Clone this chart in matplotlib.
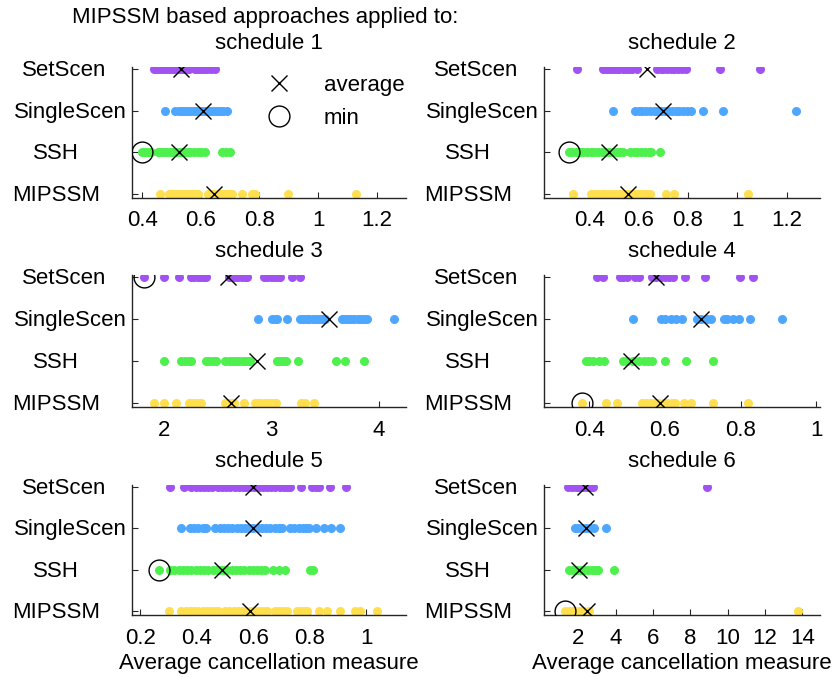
import matplotlib
matplotlib.use("Agg")
import matplotlib.pyplot as plt
from matplotlib.lines import Line2D
from matplotlib.transforms import blended_transform_factory

plt.rcParams['font.family'] = ['Liberation Sans', 'DejaVu Sans']

methods = ["SetScen", "SingleScen", "SSH", "MIPSSM"]
colors = ["#A152F2", "#4DA6FF", "#4DF04D", "#FFDF4D"]

# schedule 1
set1 = [0.44, 0.45, 0.46, 0.47, 0.48, 0.49, 0.50, 0.51, 0.52, 0.53, 0.54, 0.55, 0.56,
        0.58, 0.59, 0.60, 0.61, 0.62, 0.635, 0.648]
single1 = [0.477, 0.513, 0.525, 0.535, 0.545, 0.555, 0.565, 0.575, 0.585, 0.595, 0.605,
           0.615, 0.625, 0.635, 0.645, 0.655, 0.665, 0.675, 0.688]
ssh1 = [0.40, 0.41, 0.42, 0.43, 0.455, 0.465, 0.475, 0.485, 0.495, 0.505, 0.515, 0.525,
        0.535, 0.545, 0.555, 0.563, 0.578, 0.59, 0.602, 0.615, 0.672, 0.685, 0.70]
mip1 = [0.462, 0.49, 0.50, 0.51, 0.52, 0.53, 0.54, 0.55, 0.56, 0.57, 0.58, 0.59,
        0.626, 0.635, 0.645, 0.655, 0.665, 0.675, 0.685, 0.695, 0.705, 0.742, 0.774,
        0.785, 0.898, 1.128]
avg1 = [0.532, 0.606, 0.525, 0.646]

# schedule 2
set2 = [0.348, 0.457, 0.467, 0.477, 0.487, 0.50, 0.51, 0.52, 0.535, 0.55, 0.56, 0.572,
        0.593, 0.674, 0.69, 0.70, 0.715, 0.73, 0.745, 0.76, 0.775, 0.79, 0.928, 1.092]
single2 = [0.495, 0.586, 0.60, 0.615, 0.63, 0.645, 0.66, 0.675, 0.69, 0.705, 0.72, 0.735,
           0.75, 0.765, 0.78, 0.795, 0.81, 0.86, 0.942, 1.238]
ssh2 = [0.316, 0.33, 0.345, 0.36, 0.375, 0.39, 0.405, 0.42, 0.435, 0.45, 0.465, 0.48,
        0.495, 0.51, 0.525, 0.535, 0.565, 0.58, 0.595, 0.61, 0.625, 0.64, 0.65, 0.688]
mip2 = [0.335, 0.405, 0.42, 0.435, 0.45, 0.465, 0.48, 0.495, 0.51, 0.525, 0.54, 0.555,
        0.57, 0.585, 0.60, 0.615, 0.63, 0.645, 0.712, 0.742, 1.045]
avg2 = [0.633, 0.697, 0.481, 0.556]

# schedule 3
set3 = [1.81, 2.0, 2.138, 2.25, 2.28, 2.31, 2.34, 2.37, 2.39, 2.60, 2.63, 2.66, 2.69,
        2.72, 2.75, 2.77, 2.93, 2.96, 2.99, 3.02, 3.05, 3.08, 3.185, 3.262]
single3 = [2.877, 3.0, 3.03, 3.046, 3.138, 3.262, 3.29, 3.32, 3.35, 3.38, 3.41, 3.44,
           3.47, 3.50, 3.65, 3.68, 3.71, 3.74, 3.77, 3.80, 3.83, 3.86, 3.89, 4.138]
ssh3 = [2.0, 2.16, 2.19, 2.23, 2.25, 2.39, 2.42, 2.455, 2.48, 2.57, 2.60, 2.63, 2.66,
        2.69, 2.72, 2.75, 2.78, 2.80, 3.05, 3.076, 3.106, 3.13, 3.246, 3.594, 3.68, 3.862]
mip3 = [1.908, 2.0, 2.108, 2.23, 2.26, 2.29, 2.32, 2.34, 2.57, 2.60, 2.63, 2.65, 2.738,
        2.846, 2.875, 2.905, 2.935, 2.965, 2.995, 3.025, 3.04, 3.277, 3.31, 3.39]
avg3 = [2.59, 3.53, 2.862, 2.625]

# schedule 4
set4 = [0.419, 0.437, 0.48, 0.49, 0.50, 0.52, 0.53, 0.565, 0.575, 0.59, 0.60, 0.61,
        0.62, 0.653, 0.706, 0.799, 0.834]
single4 = [0.515, 0.59, 0.60, 0.615, 0.63, 0.645, 0.685, 0.695, 0.71, 0.722, 0.755,
           0.765, 0.78, 0.795, 0.825, 0.909]
ssh4 = [0.39, 0.40, 0.41, 0.425, 0.44, 0.49, 0.50, 0.515, 0.53, 0.545, 0.556, 0.565,
        0.60, 0.655, 0.728]
mip4 = [0.381, 0.443, 0.474, 0.538, 0.55, 0.56, 0.57, 0.582, 0.594, 0.606, 0.618, 0.627,
        0.649, 0.668, 0.726, 0.819]
avg4 = [0.577, 0.696, 0.509, 0.587]

# schedule 5
set5 = [0.304, 0.354, 0.38, 0.395, 0.41, 0.425, 0.44, 0.452, 0.473, 0.488, 0.503, 0.518,
        0.533, 0.548, 0.563, 0.575, 0.588, 0.603, 0.618, 0.633, 0.648, 0.663, 0.678,
        0.693, 0.708, 0.72, 0.73, 0.769, 0.806, 0.82, 0.832, 0.87, 0.927]
single5 = [0.345, 0.375, 0.39, 0.405, 0.42, 0.433, 0.465, 0.48, 0.495, 0.51, 0.525,
           0.54, 0.555, 0.57, 0.585, 0.60, 0.615, 0.63, 0.645, 0.66, 0.675, 0.69, 0.70,
           0.73, 0.745, 0.76, 0.775, 0.785, 0.795, 0.822, 0.848, 0.876, 0.908]
ssh5 = [0.265, 0.305, 0.32, 0.335, 0.35, 0.365, 0.38, 0.395, 0.41, 0.425, 0.44, 0.455,
        0.47, 0.478, 0.493, 0.508, 0.523, 0.538, 0.553, 0.568, 0.583, 0.598, 0.613,
        0.628, 0.64, 0.668, 0.69, 0.712, 0.80, 0.81]
mip5 = [0.301, 0.345, 0.36, 0.375, 0.39, 0.405, 0.42, 0.435, 0.45, 0.465, 0.476, 0.50,
        0.515, 0.53, 0.545, 0.56, 0.575, 0.59, 0.605, 0.62, 0.635, 0.647, 0.678, 0.69,
        0.705, 0.717, 0.755, 0.767, 0.78, 0.79, 0.832, 0.86, 0.908, 0.959, 0.976, 1.039]
avg5 = [0.60, 0.60, 0.488, 0.589]

# schedule 6
set6 = [1.45, 1.65, 1.85, 2.05, 2.25, 2.45, 2.65, 2.78, 8.9]
single6 = [1.8, 2.0, 2.2, 2.4, 2.6, 2.86, 3.46]
ssh6 = [1.52, 1.72, 1.92, 2.12, 2.32, 2.52, 2.72, 2.9, 3.04, 3.91]
mip6 = [1.3, 1.5, 1.7, 1.9, 2.1, 2.3, 2.55, 13.75]
avg6 = [2.357, 2.39, 2.05, 2.446]

schedules = [
    ("schedule 1", [set1, single1, ssh1, mip1], avg1, (0.365, 1.30), [0.4, 0.6, 0.8, 1.0, 1.2]),
    ("schedule 2", [set2, single2, ssh2, mip2], avg2, (0.216, 1.335), [0.4, 0.6, 0.8, 1.0, 1.2]),
    ("schedule 3", [set3, single3, ssh3, mip3], avg3, (1.70, 4.25), [2, 3, 4]),
    ("schedule 4", [set4, single4, ssh4, mip4], avg4, (0.28, 1.01), [0.4, 0.6, 0.8, 1.0]),
    ("schedule 5", [set5, single5, ssh5, mip5], avg5, (0.17, 1.14), [0.2, 0.4, 0.6, 0.8, 1.0]),
    ("schedule 6", [set6, single6, ssh6, mip6], avg6, (0.16, 14.95), [2, 4, 6, 8, 10, 12, 14]),
]

W, H = 835, 677
fig = plt.figure(figsize=(W / 100, H / 100), dpi=100)

col_x = [(132, 274), (544, 276)]
row_y = [(67, 198), (275, 407), (485, 615)]
# left edge of each row label, in pixels to the left of the y axis line
label_inset = [110, 118, 99, 120]

FS = 16
ypos = [4, 3, 2, 1]


def fmt(v):
    return ("%g" % v)


axes = []
for i, (title, series, avg, xlim, xt) in enumerate(schedules):
    r, c = divmod(i, 2)
    x0, w = col_x[c]
    top, bot = row_y[r]
    ax = fig.add_axes([x0 / W, 1 - bot / H, w / W, (bot - top) / H])
    axes.append(ax)
    for vals, y, col in zip(series, ypos, colors):
        ax.plot(vals, [y] * len(vals), 'o', ms=6.5, mfc=col, mec='none', zorder=2)
    ax.plot(avg, ypos, 'x', ms=11, mew=1.0, color='black', zorder=3)
    mins = [min(v) for v in series]
    k = mins.index(min(mins))
    ax.plot([mins[k]], [ypos[k]], 'o', ms=15, mfc='none', mec='black', mew=1.0, zorder=4)

    ax.set_xlim(*xlim)
    ax.set_ylim(0.9, 4.05)
    ax.set_yticks(ypos)
    ax.set_yticklabels([])
    trans = blended_transform_factory(fig.transFigure, ax.transData)
    for name, y, inset in zip(methods, ypos, label_inset):
        ax.text((x0 - inset) / W, y - 0.04, name, transform=trans, fontsize=FS,
                ha='left', va='center', clip_on=False)
    ax.set_xticks(xt)
    ax.set_xticklabels([fmt(v) for v in xt], fontsize=FS)
    ax.tick_params(direction='in', length=4, width=0.8, color='#262626')
    ax.tick_params(axis='x', pad=9)
    for s in ('top', 'right'):
        ax.spines[s].set_visible(False)
    for s in ('left', 'bottom'):
        ax.spines[s].set_linewidth(1.0)
        ax.spines[s].set_color('#262626')
    ax.set_title(title, fontsize=FS, pad=13)
    if r == 2:
        ax.set_xlabel("Average cancellation measure", fontsize=FS, labelpad=3)

fig.text(72 / W, 1 - 18 / H, "MIPSSM based approaches applied to:", fontsize=FS,
         ha='left', va='center')

handles = [Line2D([], [], ls='none', marker='x', ms=11, mew=1.0, color='black'),
           Line2D([], [], ls='none', marker='o', ms=15, mfc='none', mec='black', mew=1.0)]
axes[0].legend(handles, ["average", "min"], loc='upper left', frameon=False,
               bbox_to_anchor=(266 / W, 1 - 75 / H), bbox_transform=fig.transFigure,
               fontsize=FS, handlelength=1.2, handletextpad=1.4, labelspacing=0.55,
               borderpad=0, borderaxespad=0)

fig.savefig("out.png", dpi=100)
